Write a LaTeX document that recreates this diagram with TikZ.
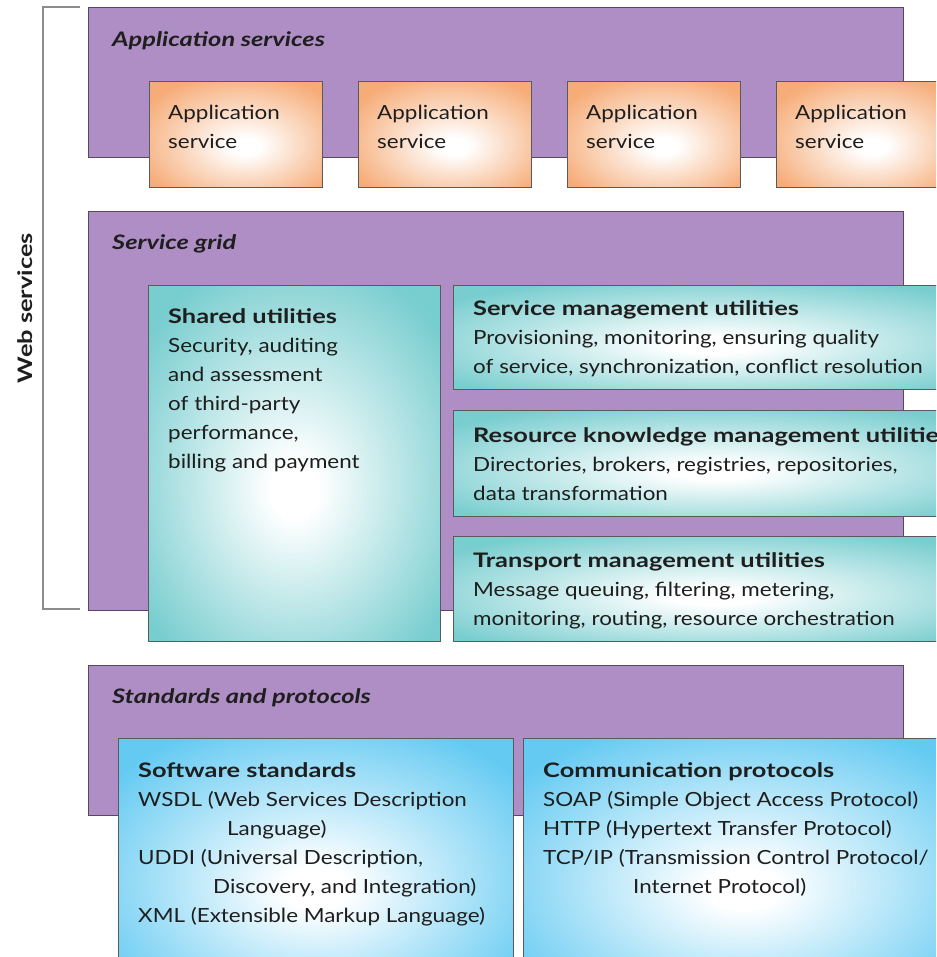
\documentclass[tikz,border=0pt]{standalone}
\usepackage{fontspec}
\setmainfont{Lato}[FakeStretch=1.15, BoldFeatures={FakeStretch=1.27}, BoldItalicFeatures={FakeStretch=1.27}]
\definecolor{panelc}{RGB}{174,142,196}
\definecolor{panelline}{RGB}{85,72,95}
\definecolor{orangec}{RGB}{246,172,120}
\definecolor{tealc}{RGB}{120,205,207}
\definecolor{bluec}{RGB}{100,202,242}
\definecolor{boxline}{RGB}{90,90,90}
\definecolor{textc}{RGB}{30,30,30}
\definecolor{bracketc}{RGB}{140,140,140}
\pgfdeclareradialshading{orangerad}{\pgfpoint{3bp}{-6bp}}{color(0bp)=(white); color(4bp)=(white); color(32bp)=(orangec); color(60bp)=(orangec)}
\pgfdeclareradialshading{tealrad}{\pgfpoint{0bp}{-4bp}}{color(0bp)=(white); color(4bp)=(white); color(32bp)=(tealc); color(60bp)=(tealc)}
\pgfdeclareradialshading{bluerad}{\pgfpoint{0bp}{-4bp}}{color(0bp)=(white); color(4bp)=(white); color(32bp)=(bluec); color(60bp)=(bluec)}
\newcommand{\mlines}[1]{\begin{tabular}[t]{@{}l@{}}#1\end{tabular}}
\newcommand{\hd}[1]{{\fontsize{20}{29}\selectfont\bfseries #1}}
\begin{document}
\begin{tikzpicture}[x=1pt,y=-1pt,
  panel/.style={draw=panelline, line width=1pt, fill=panelc, anchor=north west, inner sep=0pt},
  appbox/.style={draw=boxline, line width=1pt, shading=orangerad, anchor=north west, inner sep=0pt},
  utilbox/.style={draw=boxline, line width=1pt, shading=tealrad, anchor=north west, inner sep=0pt},
  stdbox/.style={draw=boxline, line width=1pt, shading=bluerad, anchor=north west, inner sep=0pt},
  txt/.style={anchor=base west, inner sep=0pt, text=textc, font=\fontsize{19.5}{29}\selectfont},
  head/.style={txt, font=\fontsize{20}{29}\selectfont\bfseries\itshape},
  bracket/.style={draw=bracketc, line width=1.6pt}
]
\useasboundingbox (0,0) rectangle (936,957);
\clip (0,0) rectangle (936,957);

% bracket
\coordinate (bt) at (80,7);
\coordinate (bb) at (80,609);
\draw[bracket] (bt) -- (43,7) -- (43,609) -- (bb);
\node[rotate=90, inner sep=0pt, text=textc, font=\fontsize{20}{29}\selectfont\bfseries] (web) at (25,308) {Web services};

% panels
\node[panel, minimum width=815pt, minimum height=150pt] (appsvc) at (88,7) {};
\node[panel, minimum width=815pt, minimum height=399pt] (grid) at (88,211) {};
\node[panel, minimum width=815pt, minimum height=150pt] (stdp) at (88,665) {};

% panel titles
\node[head] (appsvct) at (112,47) {Application services};
\node[head] (gridt) at (112,250) {Service grid};
\node[head] (stdpt) at (112,703) {Standards and protocols};

% application service boxes
\node[appbox, minimum width=173pt, minimum height=106pt] (as1) at (149,81) {};
\node[appbox, minimum width=173pt, minimum height=106pt] (as2) at (358,81) {};
\node[appbox, minimum width=173pt, minimum height=106pt] (as3) at (567,81) {};
\node[appbox, minimum width=173pt, minimum height=106pt] (as4) at (776,81) {};
\node[txt] (as1t) at (168,120) {\mlines{Application\\service}};
\node[txt] (as2t) at (377,120) {\mlines{Application\\service}};
\node[txt] (as3t) at (586,120) {\mlines{Application\\service}};
\node[txt] (as4t) at (795,120) {\mlines{Application\\service}};

% service grid boxes
\node[utilbox, minimum width=292pt, minimum height=356pt] (shared) at (148,285) {};
\node[utilbox, minimum width=520pt, minimum height=104pt] (smu) at (453,285) {};
\node[utilbox, minimum width=520pt, minimum height=106pt] (rkm) at (453,410) {};
\node[utilbox, minimum width=520pt, minimum height=105pt] (tmu) at (453,536) {};

\node[txt] (sharedt) at (168,323) {\mlines{\hd{Shared utilities}\\Security, auditing\\and assessment\\of third-party\\performance,\\billing and payment}};
\node[txt] (smut) at (473,315) {\mlines{\hd{Service management utilities}\\Provisioning, monitoring, ensuring quality\\of service, synchronization, conflict resolution}};
\node[txt] (rkmt) at (473,442) {\mlines{\hd{Resource knowledge management utilities}\\Directories, brokers, registries, repositories,\\data transformation}};
\node[txt] (tmut) at (473,567) {\mlines{\hd{Transport management utilities}\\Message queuing, filtering, metering,\\monitoring, routing, resource orchestration}};

% standards boxes
\node[stdbox, minimum width=395pt, minimum height=260pt] (sws) at (118,738) {};
\node[stdbox, minimum width=440pt, minimum height=260pt] (cp) at (523,738) {};

\node[txt] (swst) at (138,777) {\mlines{\hd{Software standards}\\WSDL (Web Services Description\\\hspace*{89pt}Language)\\UDDI (Universal Description,\\\hspace*{75pt}Discovery, and Integration)\\XML (Extensible Markup Language)}};
\node[txt] (cpt) at (543,777) {\mlines{\hd{Communication protocols}\\SOAP (Simple Object Access Protocol)\\HTTP (Hypertext Transfer Protocol)\\TCP/IP (Transmission Control Protocol/\\\hspace*{90pt}Internet Protocol)}};
\end{tikzpicture}
\end{document}
